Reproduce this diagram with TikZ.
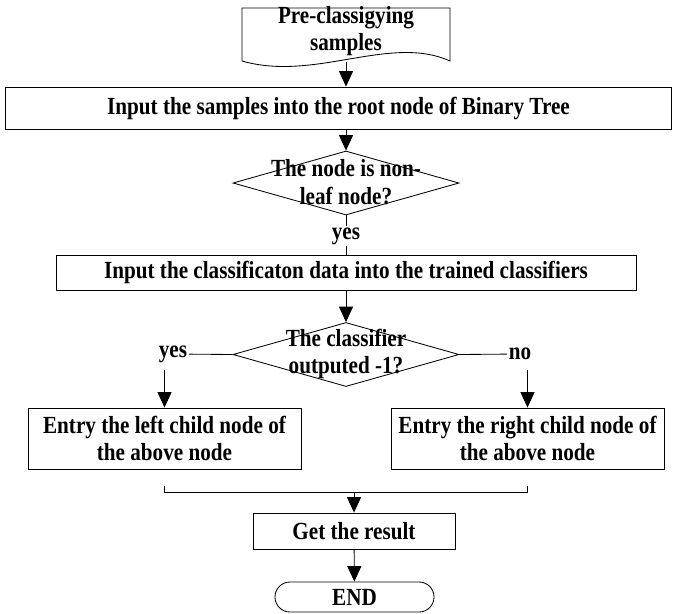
\documentclass[tikz,border=0pt]{standalone}
\usepackage{fontspec}
\setmainfont{Liberation Serif}[FakeStretch=0.86]
\usetikzlibrary{arrows.meta,shapes.geometric}

\tikzset{>={Triangle[width=10pt,length=11pt]}}

\begin{document}
\begin{tikzpicture}[x=0.025cm, y=-0.025cm, line width=0.6pt, font=\bfseries\fontsize{17.5}{19.5}\selectfont]
    \useasboundingbox (0,0) rectangle (677,613);

    % document shape
    \draw (242,61) -- (242,8) -- (450,8) -- (450,61) .. controls (390,34) and (315,82) .. (242,61);
    \node (1) at (346,31) [align=center] {Pre-classigying\\samples};
    \coordinate (1b) at (346,62);

    \begin{scope}[every node/.style={draw, rectangle, align=center, inner sep=0pt}]
        \node (2) at (338.5,108) [minimum width=16.63cm, minimum height=1.05cm] {Input the samples into the root node of Binary Tree};
        \node (4) at (346,272.5) [minimum width=14.5cm, minimum height=0.875cm] {Input the classificaton data into the trained classifiers};
        \node (6) at (164.5,438.5) [minimum width=6.825cm, minimum height=1.525cm] {Entry the left child node of\\the above node};
        \node (7) at (527.5,438.5) [minimum width=6.825cm, minimum height=1.525cm] {Entry the right child node of\\the above node};
        \node (9) at (354,531) [minimum width=5.05cm, minimum height=0.9cm] {Get the result};
        \node (10) at (354.5,597) [rounded corners=0.375cm, minimum width=3.975cm, minimum height=0.75cm] {END};
    \end{scope}

    \begin{scope}[every node/.style={draw, diamond, inner sep=0pt, minimum width=5.65cm, minimum height=1.6cm}]
        \node (3) at (346,183) {};
        \node (5) at (346,354.5) {};
    \end{scope}
    \node (3t) at (346,182) [align=center] {The node is non-\\leaf node?};
    \node (5t) at (346,354) [align=center] {The classifier\\outputed -1?};

    \node (3y) at (346,236) [inner sep=1pt] {yes};
    \node (5y) at (173,354) [inner sep=1pt] {yes};
    \node (5n) at (520,354) [inner sep=1pt] {no};
    \coordinate (5yb) at (164.5,370);
    \coordinate (5nb) at (527.5,370);
    \coordinate (8l) at (164.5,486);
    \coordinate (8r) at (527.5,486);
    \coordinate (8m) at (354,492);

    \begin{scope}[every edge/.style={draw}]
        \path [->] (1b) edge (1b |- 2.north);
        \path [->] (2.south -| 3) edge (3);
        \path [-] (3) edge (3y);
        \path [-] (3y) edge (4);
        \path [->] (4) edge (5);
        \path [-] (5.west) edge (5y);
        \path [-] (5.east) edge (5n);
        \path [->] (5yb) edge (5yb |- 6.north);
        \path [->] (5nb) edge (5nb |- 7.north);
        \draw (8l) -- ++(0,6) -| (8r);
        \path [->] (8m) edge (9);
        \path [->] (9) edge (10);
    \end{scope}
\end{tikzpicture}
\end{document}
